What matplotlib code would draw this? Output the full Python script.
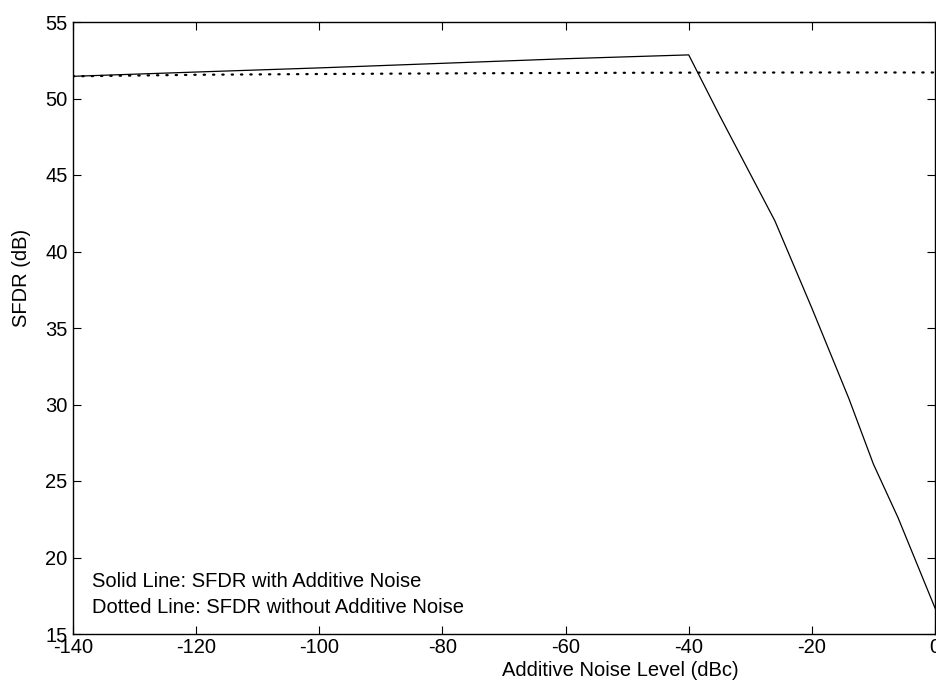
import matplotlib
matplotlib.use('Agg')
import matplotlib.pyplot as plt

plt.rcParams['font.family'] = ['Liberation Sans', 'DejaVu Sans']
plt.rcParams['axes.unicode_minus'] = False

# 有附加噪声的 SFDR（实线）
noise_level = [-140, -120, -100, -80, -60, -40, -35, -26, -20, -14, -10, -6, 0]
sfdr_noise = [51.45, 51.73, 52.0, 52.3, 52.6, 52.85, 48.9, 42.0, 36.3,
              30.4, 26.1, 22.6, 16.7]

# 无附加噪声的 SFDR（点线）
noise_level_ref = [-140, -120, -100, -80, -60, -40, -20, 0]
sfdr_ref = [51.45, 51.55, 51.6, 51.64, 51.67, 51.69, 51.7, 51.7]

x_ticks = [-140, -120, -100, -80, -60, -40, -20, 0]
y_ticks = [15, 20, 25, 30, 35, 40, 45, 50, 55]

fs = 14.5

fig = plt.figure(figsize=(9.37, 6.85), dpi=100)
ax = fig.add_axes([73 / 937, 1 - 634 / 685, 862 / 937, 612 / 685])

ax.plot(noise_level, sfdr_noise, color='black', linewidth=0.9)
ax.plot(noise_level_ref, sfdr_ref, color='black', linewidth=1.6,
        linestyle=(0, (0.6, 3.6)), dash_capstyle='round')

ax.set_xlim(-140, 0)
ax.set_ylim(15, 55)
ax.set_xticks(x_ticks)
ax.set_yticks(y_ticks)
ax.tick_params(direction='in', length=5.5, width=0.8, labelsize=fs,
               top=True, right=True)
ax.tick_params(axis='x', pad=3)
ax.tick_params(axis='y', pad=4)
for s in ax.spines.values():
    s.set_linewidth(1.0)

# 坐标轴标签（原图中并未居中）
fig.text(620 / 937, 1 - 676 / 685, 'Additive Noise Level (dBc)', ha='center',
         va='baseline', fontsize=fs)
fig.text(22 / 937, 1 - 278 / 685, 'SFDR (dB)', ha='center', va='center',
         rotation=90, fontsize=fs)

# 说明文字
ax.text(0.0217, 0.0768, 'Solid Line: SFDR with Additive Noise',
        transform=ax.transAxes, fontsize=fs, va='baseline')
ax.text(0.0217, 0.034, 'Dotted Line: SFDR without Additive Noise',
        transform=ax.transAxes, fontsize=fs, va='baseline')

fig.savefig('out.png', dpi=100)
